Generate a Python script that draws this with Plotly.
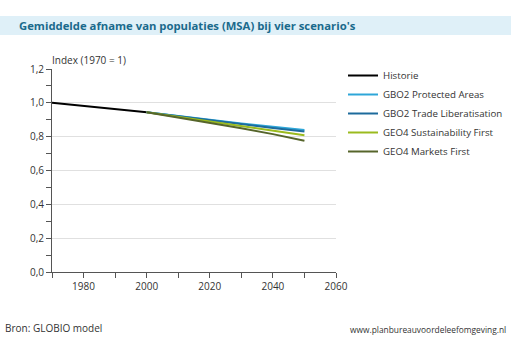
import plotly.graph_objects as go

hist_years = [1970, 2000]
hist_vals = [1.0, 0.945]

scen_years = [2000, 2010, 2020, 2030, 2040, 2050]
gbo2_pa = [0.945, 0.922, 0.900, 0.878, 0.858, 0.839]
gbo2_tl = [0.945, 0.921, 0.897, 0.873, 0.851, 0.830]
geo4_sf = [0.945, 0.918, 0.891, 0.864, 0.837, 0.809]
geo4_mf = [0.945, 0.914, 0.882, 0.850, 0.815, 0.776]

x_ticks = [1980, 2000, 2020, 2040, 2060]

series = [
    ("Historie", hist_years, hist_vals, "#000000"),
    ("GBO2 Protected Areas", scen_years, gbo2_pa, "#2ea6d8"),
    ("GBO2 Trade Liberatisation", scen_years, gbo2_tl, "#1d6b9c"),
    ("GEO4 Sustainability First", scen_years, geo4_sf, "#9bbb1e"),
    ("GEO4 Markets First", scen_years, geo4_mf, "#56652b"),
]

fig = go.Figure()
for name, xs, ys, col in series:
    fig.add_trace(go.Scatter(x=xs, y=ys, mode="lines", name=name,
                             line=dict(color=col, width=2)))

L, R, T, B = 52, 511 - 336, 69, 341 - 272
W, H = 511 - L - R, 341 - T - B

def px(xp):
    return (xp - L) / W

def py(yp):
    return (341 - B - yp) / H

font_family = "Open Sans, Noto Sans, sans-serif"

fig.update_layout(
    width=511, height=341,
    margin=dict(l=L, r=R, t=T, b=B, autoexpand=False),
    paper_bgcolor="white", plot_bgcolor="white",
    separators=",.",
    font=dict(family=font_family, size=10, color="#333333"),
    showlegend=True,
    legend=dict(xref="container", yref="container",
                x=343 / 511, y=1 - 61 / 341, xanchor="left", yanchor="top",
                font=dict(size=9.7, color="#333333"), itemwidth=30,
                tracegroupgap=0, bgcolor="rgba(0,0,0,0)"),
    xaxis=dict(range=[1970, 2060], tickvals=x_ticks, ticks="outside",
               ticklen=5, tickcolor="#555555", showline=True,
               linecolor="#555555", linewidth=1, showgrid=False,
               zeroline=False, fixedrange=True,
               minor=dict(dtick=10, tick0=1970, ticks="outside", ticklen=5,
                          tickcolor="#555555", showgrid=False),
               tickfont=dict(size=10, color="#333333")),
    yaxis=dict(range=[0, 1.2], dtick=0.2, tick0=0, tickformat=".1f",
               ticks="outside", ticklen=5, tickcolor="#555555",
               showline=True, linecolor="#555555", linewidth=1,
               showgrid=True, gridcolor="#e0e0e0", gridwidth=1,
               zeroline=False, fixedrange=True,
               minor=dict(dtick=0.1, ticks="outside", ticklen=5,
                          tickcolor="#555555", showgrid=False),
               tickfont=dict(size=10, color="#333333")),
)

fig.add_shape(type="rect", xref="paper", yref="paper",
              x0=px(0), x1=px(511), y0=py(35), y1=py(16),
              fillcolor="#dff0f8", line=dict(width=0), layer="below")

fig.add_annotation(text="<b>Gemiddelde afname van populaties (MSA) bij vier scenario's</b>",
                   xref="paper", yref="paper", x=px(17), y=py(25.5),
                   xanchor="left", yanchor="middle", showarrow=False,
                   font=dict(size=11.3, color="#1a6a8c", family=font_family))
fig.add_annotation(text="Index (1970 = 1)", xref="paper", yref="paper",
                   x=px(50), y=py(60), xanchor="left", yanchor="middle",
                   showarrow=False, font=dict(size=10, color="#333333"))
fig.add_annotation(text="Bron: GLOBIO model", xref="paper", yref="paper",
                   x=px(3), y=py(328), xanchor="left", yanchor="middle",
                   showarrow=False, font=dict(size=10, color="#333333"))
fig.add_annotation(text="www.planbureauvoordeleefomgeving.nl", xref="paper",
                   yref="paper", x=px(508), y=py(329), xanchor="right",
                   yanchor="middle", showarrow=False,
                   font=dict(size=8.4, color="#333333"))

fig.write_html("out.html", config={"displayModeBar": False})
